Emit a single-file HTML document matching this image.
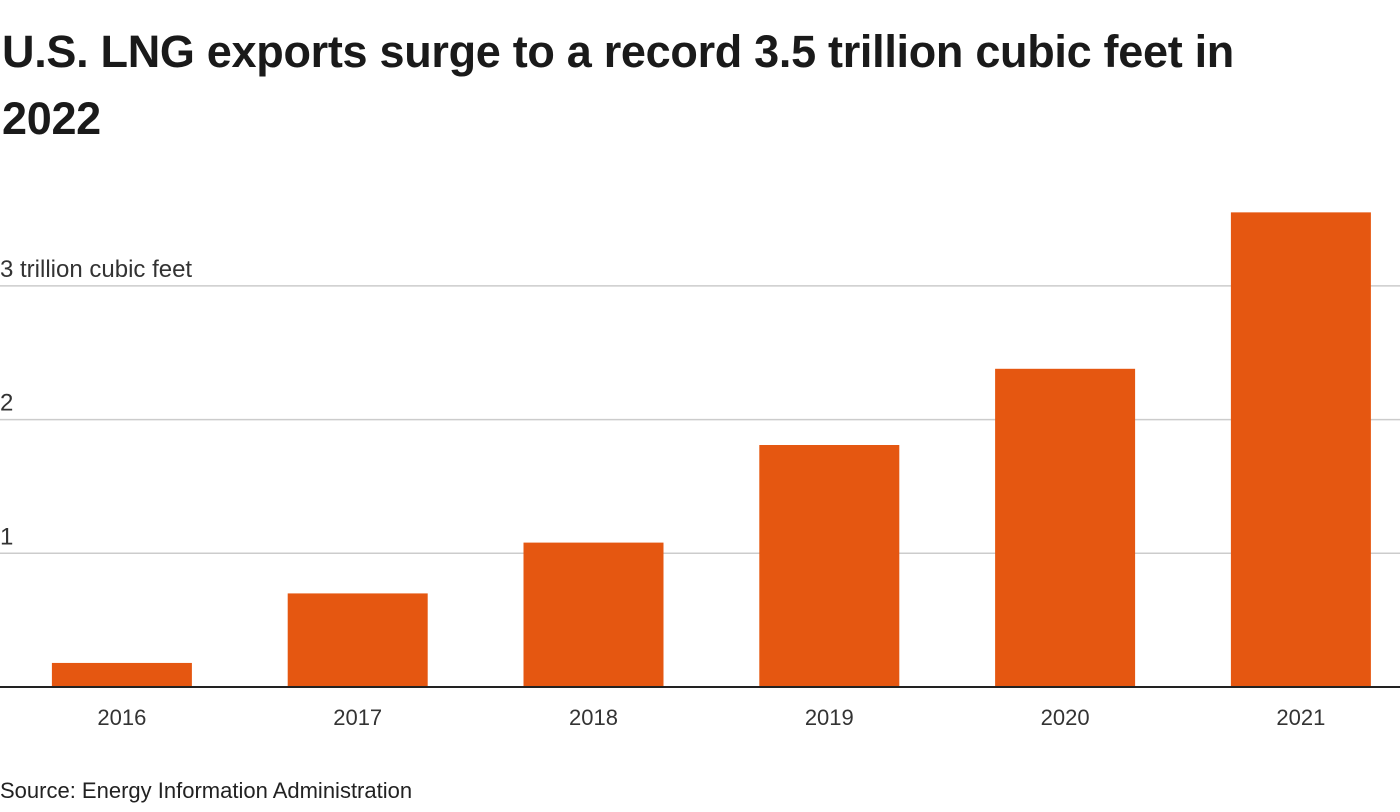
<!DOCTYPE html>
<html><head><meta charset="utf-8"><style>
body{margin:0;background:#fff;width:1400px;height:812px;overflow:hidden;font-family:"Liberation Sans",sans-serif;color:#1a1a1a}
h1{position:absolute;left:2px;top:18px;margin:0;font-size:45px;line-height:67px;font-weight:bold;letter-spacing:-0.3px;width:1390px}
#src{position:absolute;left:0;top:778px;font-size:22px;color:#222}
svg{position:absolute;left:0;top:0}
</style></head><body>
<h1>U.S. LNG exports surge to a record 3.5 trillion cubic feet in<br>2022</h1>
<svg id="chart" width="1400" height="812"></svg>
<div id="src">Source: Energy Information Administration</div>
<script>
const categories=["2016","2017","2018","2019","2020","2021"];
const values=[0.18,0.70,1.08,1.81,2.38,3.55];
const ticks=[1,2,3];
const tickLabels=["1","2","3 trillion cubic feet"];
const ns="http://www.w3.org/2000/svg",svg=document.getElementById('chart');
const y0=687,unit=133.7,x0=4,step=235.8,bw=140;
const y=v=>y0-v*unit, x=i=>x0+step*i+(step-bw)/2;
function mk(t,a){const e=document.createElementNS(ns,t);for(const k in a)e.setAttribute(k,a[k]);svg.appendChild(e);return e;}
ticks.forEach((t,i)=>{
 const l=mk('line',{x1:0,x2:1400,y1:y(t),y2:y(t),stroke:'#ccc','stroke-width':1.5});
 
 
 const tx=mk('text',{x:0,y:y(t)-9,'font-size':24,fill:'#333'});
 tx.textContent=tickLabels[i];
 
 
});
values.forEach((v,i)=>{
 const r=mk('rect',{x:x(i),y:y(v),width:bw,height:y0-y(v),fill:'#e55711'});
 
 
 const t=mk('text',{x:x(i)+bw/2,y:725,'font-size':22,fill:'#333','text-anchor':'middle'});
 t.textContent=categories[i];
 
 
});
const ax=mk('line',{x1:0,x2:1400,y1:y0,y2:y0,stroke:'#222','stroke-width':2});


</script>
</body></html>
